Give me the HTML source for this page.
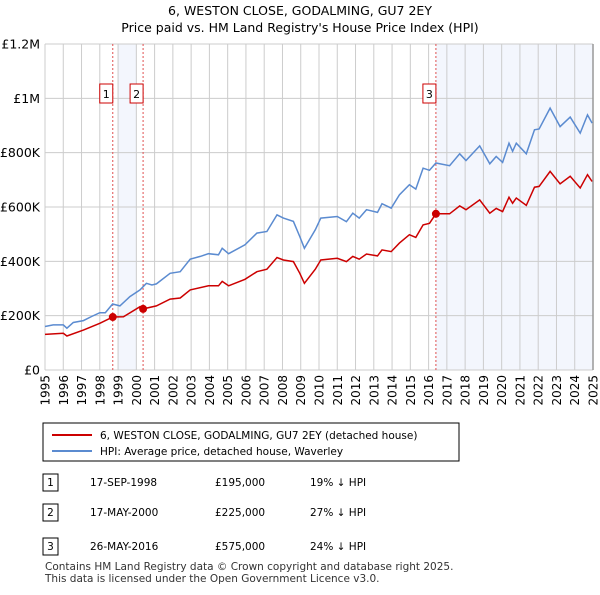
<!DOCTYPE html>
<html><head><meta charset="utf-8"><style>
body{margin:0;background:#fff;font-family:"Liberation Sans","DejaVu Sans",sans-serif;}
svg text{font-family:"DejaVu Sans","Liberation Sans",sans-serif;}
</style></head><body>
<svg width="600" height="590" xmlns="http://www.w3.org/2000/svg">
<text x="300" y="15" text-anchor="middle" font-size="12.5" fill="#000">6, WESTON CLOSE, GODALMING, GU7 2EY</text>
<text x="300" y="32" text-anchor="middle" font-size="12.5" fill="#000">Price paid vs. HM Land Registry's House Price Index (HPI)</text>
<g id="plot"></g>
<g>
<rect x="43" y="423" width="416" height="38" fill="#fff" stroke="#000" stroke-width="1"/>
<line x1="52" y1="435" x2="92" y2="435" stroke="#cc0000" stroke-width="2"/>
<text x="100" y="439" font-size="10.5">6, WESTON CLOSE, GODALMING, GU7 2EY (detached house)</text>
<line x1="52" y1="451" x2="92" y2="451" stroke="#5b8bd0" stroke-width="2"/>
<text x="100" y="455" font-size="10.5">HPI: Average price, detached house, Waverley</text>
</g>
<g font-size="10.5">
<rect x="43" y="474" width="15" height="17" fill="#fff" stroke="#000"/><text x="50.5" y="486" text-anchor="middle">1</text>
<text x="90" y="486">17-SEP-1998</text><text x="215" y="486">£195,000</text><text x="310" y="486">19% ↓ HPI</text>
<rect x="43" y="504" width="15" height="17" fill="#fff" stroke="#000"/><text x="50.5" y="516" text-anchor="middle">2</text>
<text x="90" y="516">17-MAY-2000</text><text x="215" y="516">£225,000</text><text x="310" y="516">27% ↓ HPI</text>
<rect x="43" y="538" width="15" height="17" fill="#fff" stroke="#000"/><text x="50.5" y="550" text-anchor="middle">3</text>
<text x="90" y="550">26-MAY-2016</text><text x="215" y="550">£575,000</text><text x="310" y="550">24% ↓ HPI</text>
</g>
<text x="45" y="570" font-size="10.5" fill="#333">Contains HM Land Registry data © Crown copyright and database right 2025.</text>
<text x="45" y="582" font-size="10.5" fill="#333">This data is licensed under the Open Government Licence v3.0.</text>
</svg>
<script>
const hpiYears=[1995.0,1995.45,1996.0,1996.2,1996.55,1997.1,1997.55,1998.0,1998.3,1998.7,1999.1,1999.65,2000.2,2000.55,2000.85,2001.1,2001.85,2002.4,2002.95,2003.5,2003.95,2004.5,2004.7,2005.05,2005.95,2006.6,2007.15,2007.7,2008.05,2008.6,2008.95,2009.2,2009.8,2010.1,2011.0,2011.5,2011.85,2012.2,2012.6,2013.2,2013.45,2013.95,2014.4,2014.95,2015.3,2015.7,2016.05,2016.4,2017.15,2017.7,2018.05,2018.8,2019.35,2019.7,2020.05,2020.4,2020.6,2020.8,2021.35,2021.8,2022.05,2022.65,2023.2,2023.75,2024.3,2024.7,2024.95];
const hpiValues=[160,166,166,154,175,182,197,211,211,243,236,270,295,319,313,317,356,362,408,418,428,424,448,428,461,504,510,571,559,547,491,448,516,559,565,546,577,559,590,580,612,596,645,682,666,743,735,762,752,796,771,825,759,786,764,835,805,835,796,884,887,964,896,931,872,939,909];
const priceYears=[1995.0,1996.0,1996.2,1997.1,1998.0,1998.71,1999.3,2000.2,2000.37,2001.1,2001.85,2002.4,2002.95,2003.95,2004.5,2004.7,2005.05,2005.95,2006.6,2007.15,2007.7,2008.05,2008.6,2008.95,2009.2,2009.8,2010.1,2011.0,2011.5,2011.85,2012.2,2012.6,2013.2,2013.45,2013.95,2014.4,2014.95,2015.3,2015.7,2016.05,2016.4,2017.15,2017.7,2018.05,2018.8,2019.35,2019.7,2020.05,2020.4,2020.6,2020.8,2021.35,2021.8,2022.05,2022.65,2023.2,2023.75,2024.3,2024.7,2024.95];
const priceValues=[131,135,125,147,172,195,196,233,225,236,261,265,295,310,310,326,310,334,362,371,414,405,399,356,319,371,405,411,399,418,408,427,420,442,436,467,498,488,534,540,575,575,604,590,626,577,595,583,636,614,633,606,673,676,731,685,713,670,719,694];
const saleYears=[1998.71,2000.37,2016.4];
const saleValues=[195,225,575];
const saleLabels=["1","2","3"];
const yTicks=[0,200,400,600,800,1000,1200];
const yTickLabels=["£0","£200K","£400K","£600K","£800K","£1M","£1.2M"];
const xTicks=[1995,1996,1997,1998,1999,2000,2001,2002,2003,2004,2005,2006,2007,2008,2009,2010,2011,2012,2013,2014,2015,2016,2017,2018,2019,2020,2021,2022,2023,2024,2025];
const shadeRanges=[[1999.0,2000.0],[2016.4,2025.0]];

const L=45,R=593,T=44,B=370;
const xs=y=>L+(y-1995)/30*(R-L);
const ys=v=>B-v/1200*(B-T);
const NS="http://www.w3.org/2000/svg";
const g=document.getElementById('plot');
function mk(tag,attrs,parent){const e=document.createElementNS(NS,tag);for(const k in attrs)e.setAttribute(k,attrs[k]);(parent||g).appendChild(e);return e;}
shadeRanges.forEach(r=>{const e=mk('rect',{x:xs(r[0]),y:T,width:xs(r[1])-xs(r[0]),height:B-T,fill:'#eef2fc',opacity:0.7});

});
xTicks.forEach(t=>{const e=mk('line',{x1:xs(t),x2:xs(t),y1:T,y2:B,stroke:'#cccccc','stroke-width':1});


const tx=mk('text',{x:0,y:0,'font-size':12,'text-anchor':'end',transform:`translate(${xs(t)+4.5},${B+5}) rotate(-90)`});tx.textContent=t;

});
yTicks.forEach((t,i)=>{const e=mk('line',{x1:L,x2:R,y1:ys(t),y2:ys(t),stroke:'#cccccc','stroke-width':1});


const tx=mk('text',{x:L-5,y:ys(t)+4.5,'font-size':12.5,'text-anchor':'end'});tx.textContent=yTickLabels[i];

});
const rl=mk('line',{x1:R,x2:R,y1:T,y2:B,stroke:'#999','stroke-width':1.5});


saleYears.forEach((s,i)=>{const e=mk('line',{x1:xs(s),x2:xs(s),y1:T,y2:B,stroke:'#e05050','stroke-width':1,'stroke-dasharray':'2,2'});


const bx=mk('rect',{x:xs(s)-13,y:84,width:13,height:19,fill:'#fff',stroke:'#cc0000','stroke-width':1});


const tx=mk('text',{x:xs(s)-6.5,y:98,'font-size':11,'text-anchor':'middle'});tx.textContent=saleLabels[i];

});
const path=(X,V)=>X.map((x,i)=>(i?'L':'M')+xs(x).toFixed(1)+','+ys(V[i]).toFixed(1)).join('');
const hp=mk('path',{d:path(hpiYears,hpiValues),fill:'none',stroke:'#5b8bd0','stroke-width':1.5});


const pp=mk('path',{d:path(priceYears,priceValues),fill:'none',stroke:'#cc0000','stroke-width':1.5});


saleYears.forEach((s,i)=>{const c=mk('circle',{cx:xs(s),cy:ys(saleValues[i]),r:4,fill:'#cc0000'});

});
</script>
</body></html>
